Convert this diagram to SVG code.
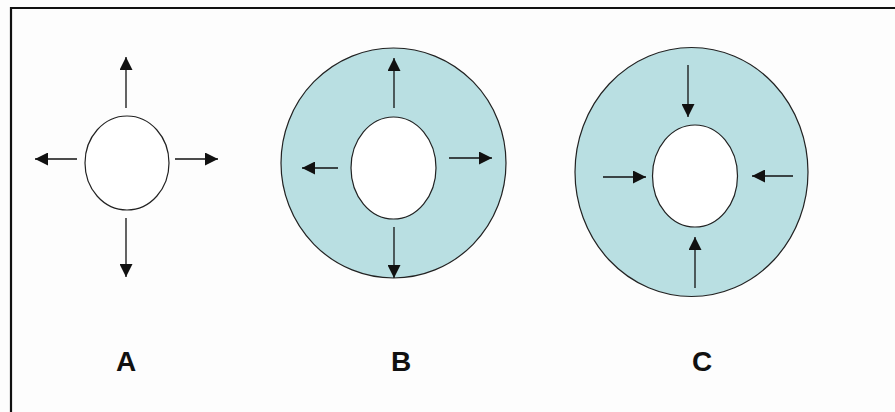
<svg xmlns="http://www.w3.org/2000/svg" width="895" height="412" viewBox="0 0 895 412">
<style>
.ring{fill:#b9dfe2;stroke:#222;stroke-width:1.2}
.hole{fill:#fff;stroke:#222;stroke-width:1.2}
.arr{stroke:#111;stroke-width:1.3;fill:none;marker-end:url(#ah)}
.lbl{font-family:"Liberation Sans",Arial,sans-serif;font-weight:bold;font-size:28px;fill:#111;text-anchor:middle}
</style>
<defs>
<marker id="ah" viewBox="0 0 10 10" refX="10" refY="5" markerUnits="userSpaceOnUse" markerWidth="14" markerHeight="13" orient="auto">
<path d="M0,0 L10,5 L0,10 Z" fill="#111"/>
</marker>
</defs>
<rect width="895" height="412" fill="#fdfdfd"/>
<path d="M11,420 V8 H900" fill="none" stroke="#111" stroke-width="2.2"/>
<g id="nodeA">
<ellipse class="hole" cx="127" cy="163" rx="42" ry="47"/>
<text class="lbl" x="126" y="371">A</text>
</g>
<g id="nodeB">
<ellipse class="ring" cx="393.5" cy="163" rx="112.5" ry="115"/>
<ellipse class="hole" cx="393.5" cy="168" rx="42.5" ry="51"/>
<text class="lbl" x="401" y="371">B</text>
</g>
<g id="nodeC">
<ellipse class="ring" cx="691.5" cy="172" rx="116.5" ry="124.5"/>
<ellipse class="hole" cx="695" cy="176" rx="42.5" ry="51"/>
<text class="lbl" x="702" y="371">C</text>
</g>
<g id="connectors">
<line class="arr" x1="126" y1="108" x2="126" y2="57"/>
<line class="arr" x1="77" y1="159" x2="35" y2="159"/>
<line class="arr" x1="175" y1="159" x2="218" y2="159"/>
<line class="arr" x1="126" y1="218" x2="126" y2="277"/>
<line class="arr" x1="394" y1="108" x2="394" y2="58"/>
<line class="arr" x1="394" y1="227" x2="394" y2="278"/>
<line class="arr" x1="338" y1="168" x2="302" y2="168"/>
<line class="arr" x1="449" y1="158" x2="492" y2="158"/>
<line class="arr" x1="688" y1="65" x2="688" y2="117"/>
<line class="arr" x1="603" y1="177" x2="646" y2="177"/>
<line class="arr" x1="793" y1="176" x2="752" y2="176"/>
<line class="arr" x1="695" y1="288" x2="695" y2="237"/>
</g>
</svg>
